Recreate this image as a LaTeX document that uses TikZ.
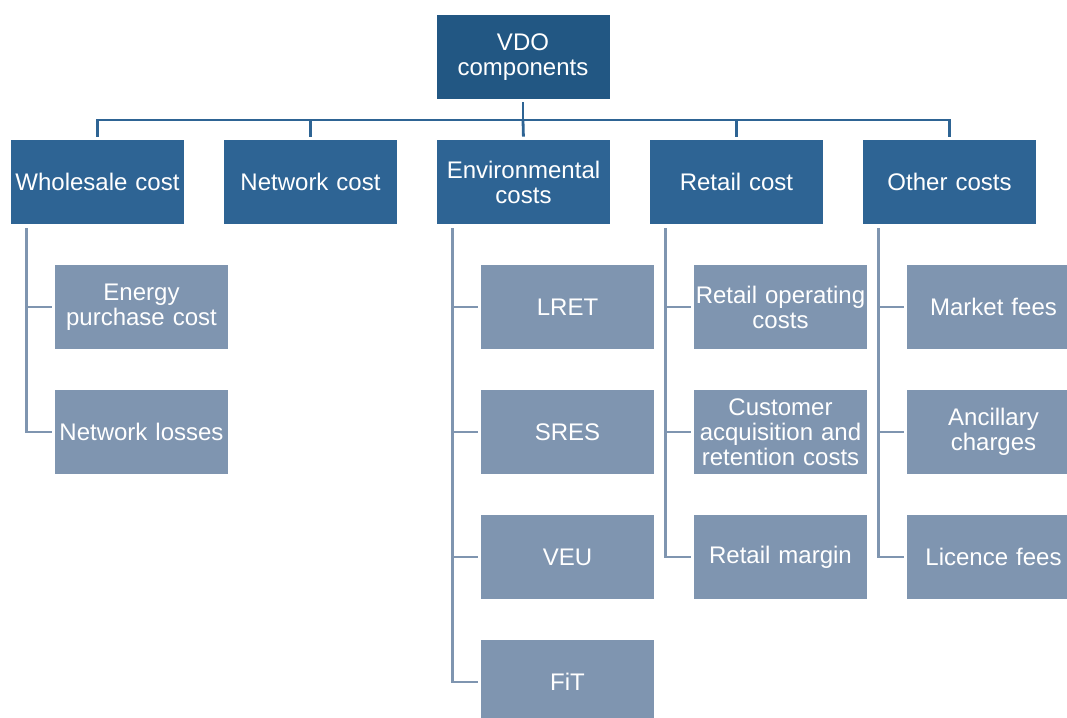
\documentclass[tikz,border=0pt]{standalone}
\usepackage{fontspec}
\setmainfont{Liberation Sans}
\definecolor{vdoblue}{RGB}{34,87,131}
\definecolor{costblue}{RGB}{46,100,148}
\definecolor{partgrey}{RGB}{127,149,176}
\tikzset{
  box/.style={text=white, minimum width=86.5pt, minimum height=42pt, text width=86pt,
    align=center, inner sep=0pt, font=\fontsize{12}{12.5}\selectfont},
  topbox/.style={box, fill=vdoblue},
  costbox/.style={box, fill=costblue},
  partbox/.style={box, fill=partgrey},
  topline/.style={draw=costblue, line width=1.4pt},
  partline/.style={draw=partgrey, line width=1.4pt, shorten <=2pt, shorten >=1.5pt}
}
\begin{document}
\begin{tikzpicture}[x=0.5pt,y=-0.5pt]
                \useasboundingbox (0,0) rectangle (1067,718);
                \clip (0,0) rectangle (1067,718);
                \node[topbox] (vdo) at (523,57) {VDO\\components};
                \node[costbox] (whole) at (97.5,182) {Wholesale cost};
                \node[costbox] (net) at (310.5,182) {Network cost};
                \node[costbox] (env) at (523.5,182) {Environmental\\costs};
                \node[costbox] (retail) at (736.5,182) {Retail cost};
                \node[costbox] (other) at (949.5,182) {Other costs};

                \node[partbox] (energy) at (141.5,307) {Energy\\purchase cost};
                \node[partbox] (losses) at (141.5,432) {Network losses};
                \node[partbox] (lret) at (567.5,307) {LRET};
                \node[partbox] (sres) at (567.5,432) {SRES};
                \node[partbox] (veu) at (567.5,557) {VEU};
                \node[partbox] (fit) at (567.5,682) {FiT};
                \node[partbox] (retop) at (780.5,307) {Retail operating\\costs};
                \node[partbox] (acq) at (780.5,432) {Customer\\acquisition and\\retention costs};
                \node[partbox] (margin) at (780.5,557) {Retail margin};
                \node[partbox] (market) at (993.5,307) {Market fees};
                \node[partbox] (ancil) at (993.5,432) {Ancillary\\charges};
                \node[partbox] (licence) at (993.5,557) {Licence fees};

                % top level bus
                \coordinate (bus) at (523,120);
                \draw[topline, shorten <=1.5pt] (vdo.south) -- (bus);
                \draw[topline, shorten >=1.5pt] (bus) -| (whole.north);
                \draw[topline, shorten >=1.5pt] (bus) -| (net.north);
                \draw[topline, shorten >=1.5pt] (bus) -- (env.north);
                \draw[topline, shorten >=1.5pt] (bus) -| (retail.north);
                \draw[topline, shorten >=1.5pt] (bus) -| (other.north);

                % second level
                \draw[partline] ([xshift=8pt]whole.south west) |- (energy.west);
                \draw[partline] ([xshift=8pt]whole.south west) |- (losses.west);
                \draw[partline] ([xshift=8pt]env.south west) |- (lret.west);
                \draw[partline] ([xshift=8pt]env.south west) |- (sres.west);
                \draw[partline] ([xshift=8pt]env.south west) |- (veu.west);
                \draw[partline] ([xshift=8pt]env.south west) |- (fit.west);
                \draw[partline] ([xshift=8pt]retail.south west) |- (retop.west);
                \draw[partline] ([xshift=8pt]retail.south west) |- (acq.west);
                \draw[partline] ([xshift=8pt]retail.south west) |- (margin.west);
                \draw[partline] ([xshift=8pt]other.south west) |- (market.west);
                \draw[partline] ([xshift=8pt]other.south west) |- (ancil.west);
                \draw[partline] ([xshift=8pt]other.south west) |- (licence.west);
            \end{tikzpicture}
\end{document}
